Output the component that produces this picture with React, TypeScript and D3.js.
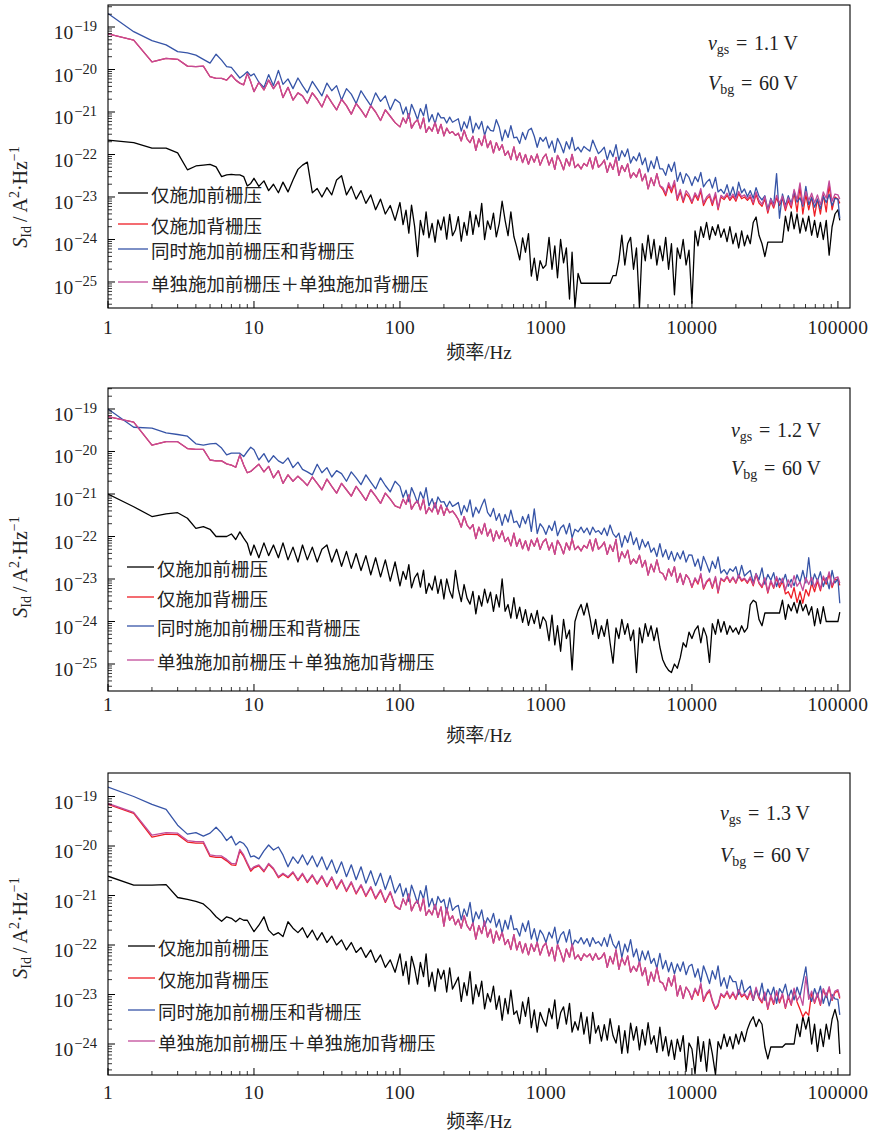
import React from 'react';
import * as d3 from 'd3';

// Frequency grid (Hz): 0.5 Hz steps below 10 Hz, 30 points in 10–100 Hz, 50 points per decade above
const FREQ = [
  1, 1.5, 2, 2.5, 3, 3.5, 4, 4.5, 5, 5.5, 6, 6.5, 7, 7.5, 8, 8.5, 9, 9.5,
  10, 10.8, 11.7, 12.6, 13.6, 14.7, 15.8, 17.1, 18.5, 20, 21.5, 23.2, 25.1, 27.1, 29.2, 31.6, 34.1, 36.8, 39.8, 43, 46.4, 50.1, 54.1, 58.4, 63.1, 68.1, 73.6, 79.4, 85.8, 92.6,
  100, 105, 110, 115, 120, 126, 132, 138, 145, 151, 158, 166, 174, 182, 191, 200, 209, 219, 229, 240, 251, 263, 275, 288, 302, 316, 331, 347, 363, 380, 398, 417, 437, 457, 479, 501, 525, 550, 575, 603, 631, 661, 692, 724, 759, 794, 832, 871, 912, 955,
  1000, 1050, 1100, 1150, 1200, 1260, 1320, 1380, 1450, 1510, 1580, 1660, 1740, 1820, 1910, 2000, 2090, 2190, 2290, 2400, 2510, 2630, 2750, 2880, 3020, 3160, 3310, 3470, 3630, 3800, 3980, 4170, 4370, 4570, 4790, 5010, 5250, 5500, 5750, 6030, 6310, 6610, 6920, 7240, 7590, 7940, 8320, 8710, 9120, 9550,
  10000, 10500, 11000, 11500, 12000, 12600, 13200, 13800, 14500, 15100, 15800, 16600, 17400, 18200, 19100, 20000, 20900, 21900, 22900, 24000, 25100, 26300, 27500, 28800, 30200, 31600, 33100, 34700, 36300, 38000, 39800, 41700, 43700, 45700, 47900, 50100, 52500, 55000, 57500, 60300, 63100, 66100, 69200, 72400, 75900, 79400, 83200, 87100, 91200, 95500,
  100000, 103000,
];

// log10 of S_Id (A^2/Hz), vgs = 1.1 V
const FRONT_11 = [
  -21.66, -21.72, -21.85, -21.85, -21.96, -22.36, -22.27, -22.25, -22.23, -22.29, -22.52, -22.48, -22.47, -22.48, -22.48, -22.52, -22.74, -22.68,
  -22.56, -22.75, -22.62, -22.85, -22.7, -22.9, -22.65, -22.88, -22.6, -22.35, -22.25, -22.18, -22.9, -22.8, -23.0, -22.78, -22.95, -22.6, -22.5, -22.95, -22.75, -23.05, -22.85, -23.15, -22.95, -23.3, -23.05, -23.4, -23.2, -23.55,
  -23.13, -23.65, -23.31, -23.85, -23.19, -23.69, -24.4, -23.55, -23.89, -23.35,
  -23.96, -23.62, -24.06, -23.54, -23.78, -23.47, -23.99, -23.41, -23.91, -23.77,
  -23.46, -24.04, -23.6, -23.9, -23.34, -23.88, -23.42, -23.7, -23.15, -24.0,
  -23.56, -23.76, -23.38, -23.94, -23.62, -23.1, -23.55, -23.91, -23.35, -23.93,
  -24.18, -24.48, -23.96, -24.3, -23.86, -24.86, -24.44, -24.96, -24.5, -24.68,
  -24.6, -23.95, -24.7, -24.15, -24.9, -24.0, -24.55, -24.2, -25.4, -24.3,
  -25.6, -24.8, -25.03, -25.03, -25.03, -25.03, -25.03, -25.03, -25.03, -25.03,
  -25.03, -25.03, -25.03, -24.85, -24.85, -24.5, -23.9, -24.6, -24.1, -23.95,
  -24.7, -24.2, -25.6, -24.1, -24.5, -23.9, -24.45, -24.0, -24.6, -24.15,
  -24.5, -23.95, -24.7, -24.1, -25.3, -24.2, -24.45, -24.0, -24.6, -24.25,
  -25.5, -23.8, -24.15, -23.7, -23.95, -23.6, -24.0, -23.7, -23.9, -23.65,
  -23.95, -23.75, -24.05, -23.7, -24.1, -23.85, -24.2, -23.8, -24.15, -23.9,
  -24.1, -23.6, -23.47, -23.9, -24.1, -24.4, -24.06, -24.06, -24.06, -24.06,
  -24.06, -24.06, -23.45, -23.8, -23.35, -23.75, -23.4, -23.85, -23.5, -23.8,
  -23.45, -23.9, -23.55, -23.95, -23.6, -24.0, -23.55, -24.37, -23.7, -23.4,
  -23.3, -23.55,
];
const BACK_11 = [
  -19.16, -19.31, -19.82, -19.74, -19.76, -19.92, -19.93, -19.92, -20.17, -20.21, -20.21, -20.25, -20.13, -20.25, -20.32, -20.36, -20.09, -20.29,
  -20.52, -20.3, -20.48, -20.25, -20.45, -20.28, -20.66, -20.42, -20.72, -20.55, -20.62, -20.8, -20.55, -20.7, -20.88, -20.6, -20.78, -20.95, -20.7, -20.85, -21.05, -20.8, -20.95, -21.12, -20.85, -21.0, -21.2, -20.95, -21.1, -21.25,
  -21.35, -21.14, -21.26, -21.04, -21.38, -21.25, -21.18, -21.39, -21.14, -21.48,
  -21.35, -21.45, -21.24, -21.5, -21.29, -21.56, -21.38, -21.5, -21.46, -21.55,
  -21.5, -21.68, -21.43, -21.63, -21.72, -21.57, -21.9, -21.63, -21.79, -21.54,
  -21.84, -21.68, -21.96, -21.72, -21.9, -21.77, -22.02, -21.92, -22.12, -21.82,
  -22.13, -21.96, -22.19, -22.0, -22.23, -22.03, -22.18, -21.99, -22.25, -22.08,
  -21.99, -22.25, -22.08, -22.35, -22.02, -22.17, -22.36, -22.1, -22.27, -22.0,
  -22.31, -22.23, -22.34, -22.21, -22.27, -22.08, -22.34, -22.05, -22.3, -22.23,
  -22.13, -22.42, -22.2, -22.35, -22.07, -22.49, -22.26, -22.4, -22.22, -22.55,
  -22.43, -22.53, -22.34, -22.62, -22.46, -22.81, -22.55, -22.73, -22.45, -22.74,
  -22.82, -22.97, -22.72, -22.9, -22.68, -23.08, -22.88, -23.13, -22.92, -23.0,
  -23.15, -22.95, -23.08, -22.86, -23.2, -23.05, -22.98, -23.2, -22.95, -23.3,
  -23.0, -23.06, -22.96, -23.08, -22.98, -23.1, -22.92, -23.04, -23.0, -23.08,
  -23.0, -23.18, -22.94, -23.14, -23.22, -23.05, -23.38, -23.1, -23.26, -23.02,
  -23.2, -23.04, -23.32, -23.08, -23.26, -22.9, -23.35, -22.75, -23.4, -22.95,
  -23.3, -23.0, -23.45, -23.05, -23.4, -22.95, -23.35, -22.7, -23.3, -23.0,
  -23.05, -23.15,
];
const BOTH_11 = [
  -18.68, -19.11, -19.32, -19.42, -19.58, -19.61, -19.66, -19.76, -19.85, -19.64, -19.78, -19.93, -19.95, -20.08, -20.2, -20.13, -20.05, -20.15,
  -20.1, -20.3, -20.42, -20.12, -20.38, -20.02, -20.35, -20.22, -20.45, -20.2, -20.38, -20.55, -20.28, -20.45, -20.62, -20.32, -20.5, -20.38, -20.72, -20.45, -20.58, -20.8, -20.5, -20.68, -20.85, -20.55, -20.75, -20.62, -20.95, -20.7,
  -20.79, -21.05, -20.88, -21.15, -20.82, -20.99, -21.18, -20.92, -21.09, -20.82,
  -21.23, -21.06, -21.28, -21.02, -21.14, -21.13, -21.26, -21.12, -21.24, -21.2,
  -21.16, -21.45, -21.23, -21.38, -21.1, -21.49, -21.26, -21.4, -21.22, -21.55,
  -21.33, -21.43, -21.45, -21.18, -21.36, -21.68, -21.42, -21.6, -21.32, -21.61,
  -21.59, -21.74, -21.48, -21.65, -21.43, -21.38, -21.57, -21.83, -21.6, -21.69,
  -21.59, -21.85, -21.68, -21.95, -21.62, -21.77, -21.96, -21.7, -21.87, -21.6,
  -21.91, -21.83, -21.94, -21.81, -21.87, -21.92, -21.66, -21.83, -21.98, -21.91,
  -21.83, -22.12, -21.9, -22.05, -21.77, -22.14, -21.91, -22.05, -21.87, -22.2,
  -22.05, -22.15, -21.96, -22.24, -22.08, -22.41, -22.15, -22.33, -22.05, -22.34,
  -22.34, -22.49, -22.23, -22.4, -22.18, -22.63, -22.42, -22.68, -22.45, -22.54,
  -22.73, -22.52, -22.64, -22.42, -22.76, -22.65, -22.58, -22.79, -22.54, -22.88,
  -22.82, -22.92, -22.71, -22.97, -22.76, -23.02, -22.65, -22.9, -22.81, -22.99,
  -22.85, -23.03, -22.78, -22.98, -23.07, -22.97, -23.3, -23.03, -23.19, -22.45,
  -23.5, -22.93, -23.21, -22.97, -23.15, -22.87, -23.12, -23.02, -23.22, -22.75,
  -23.18, -23.01, -23.24, -23.05, -23.28, -22.98, -23.13, -22.94, -23.2, -23.03,
  -23.05, -23.5,
];
const SUM_11 = [
  -19.16, -19.31, -19.82, -19.74, -19.76, -19.92, -19.93, -19.92, -20.17, -20.21, -20.21, -20.25, -20.13, -20.25, -20.32, -20.36, -20.09, -20.29,
  -20.52, -20.3, -20.48, -20.25, -20.45, -20.28, -20.66, -20.42, -20.72, -20.55, -20.62, -20.8, -20.55, -20.7, -20.88, -20.6, -20.78, -20.95, -20.7, -20.85, -21.05, -20.8, -20.95, -21.12, -20.85, -21.0, -21.2, -20.95, -21.1, -21.25,
  -21.35, -21.14, -21.26, -21.04, -21.38, -21.25, -21.18, -21.39, -21.14, -21.48,
  -21.35, -21.45, -21.24, -21.5, -21.29, -21.56, -21.38, -21.5, -21.46, -21.55,
  -21.5, -21.68, -21.43, -21.63, -21.72, -21.57, -21.9, -21.63, -21.79, -21.54,
  -21.84, -21.68, -21.96, -21.72, -21.9, -21.77, -22.02, -21.92, -22.12, -21.82,
  -22.13, -21.96, -22.19, -22.0, -22.23, -22.03, -22.18, -21.99, -22.25, -22.08,
  -21.99, -22.25, -22.08, -22.35, -22.02, -22.17, -22.36, -22.1, -22.27, -22.0,
  -22.31, -22.23, -22.34, -22.21, -22.27, -22.08, -22.34, -22.05, -22.3, -22.23,
  -22.13, -22.42, -22.2, -22.35, -22.07, -22.49, -22.26, -22.4, -22.22, -22.55,
  -22.43, -22.53, -22.34, -22.62, -22.46, -22.81, -22.55, -22.73, -22.45, -22.74,
  -22.77, -22.92, -22.66, -22.83, -22.61, -23.03, -22.82, -23.08, -22.85, -22.94,
  -23.11, -22.9, -23.02, -22.8, -23.14, -23.0, -22.93, -23.14, -22.89, -23.26,
  -22.96, -23.02, -22.91, -23.04, -22.93, -23.05, -22.87, -22.99, -22.95, -23.04,
  -22.95, -23.13, -22.88, -23.08, -23.17, -22.99, -23.32, -23.05, -23.21, -22.96,
  -23.14, -22.98, -23.26, -23.02, -23.2, -22.82, -23.07, -22.67, -23.17, -22.87,
  -23.08, -22.91, -23.14, -22.95, -23.18, -22.88, -23.03, -22.62, -23.1, -22.93,
  -22.95, -23.05,
];

// log10 of S_Id (A^2/Hz), vgs = 1.2 V
const FRONT_12 = [
  -21.0, -21.3, -21.53, -21.47, -21.44, -21.57, -21.81, -21.77, -21.83, -22.0, -22.0, -22.0, -21.94, -22.07, -21.89, -22.04, -22.16, -22.44,
  -22.2, -22.5, -22.15, -22.45, -22.2, -22.5, -22.15, -22.55, -22.25, -22.6, -22.2, -22.55, -22.25, -22.6, -22.3, -22.2, -22.6, -22.3, -22.7, -22.35, -22.75, -22.4, -22.8, -22.45, -22.9, -22.5, -22.95, -22.55, -23.05, -22.6,
  -23.16, -22.82, -23.01, -22.66, -23.21, -22.97, -22.86, -23.19, -22.79, -23.34,
  -23.1, -23.26, -22.93, -23.34, -23.01, -23.47, -23.0, -23.28, -23.45, -22.8,
  -23.24, -23.53, -23.13, -23.45, -23.59, -23.29, -23.82, -23.39, -23.64, -23.24,
  -23.56, -23.31, -23.76, -23.37, -23.66, -23.0, -23.76, -23.6, -23.92, -23.44,
  -23.93, -23.66, -24.02, -23.72, -24.09, -23.81, -24.05, -23.74, -24.16, -23.89,
  -24.0, -24.45, -23.85, -24.55, -24.1, -24.7, -23.95, -24.4, -24.2, -25.14,
  -24.0, -23.75, -23.6, -23.85, -23.57, -23.9, -24.3, -23.95, -24.4, -24.1,
  -24.35, -23.95, -24.5, -24.98, -24.15, -24.4, -23.95, -24.3, -24.05, -24.45,
  -24.2, -25.2, -24.15, -24.5, -24.05, -24.35, -24.1, -24.45, -24.15, -24.6,
  -24.9, -25.05, -25.15, -25.2, -25.0, -25.1, -24.85, -24.5, -24.6, -24.25,
  -24.4, -24.2, -24.1, -24.5, -24.15, -24.35, -24.96, -24.05, -24.3, -23.95,
  -24.25, -24.0, -24.3, -24.1, -24.25, -24.15, -24.3, -24.1, -24.25, -24.15,
  -23.6, -23.5, -23.55, -23.95, -24.1, -23.8, -23.8, -23.8, -23.8, -23.8,
  -23.8, -23.5, -23.95, -23.6, -23.75, -23.55, -23.8, -23.5, -23.75, -23.6,
  -23.85, -23.65, -24.1, -23.7, -24.05, -23.65, -24.0, -24.0, -24.0, -24.0,
  -24.0, -23.78,
];
const BACK_12 = [
  -19.18, -19.31, -19.85, -19.77, -19.77, -19.93, -19.95, -19.95, -20.2, -20.22, -20.22, -20.29, -20.32, -20.37, -20.08, -20.32, -20.5, -20.47,
  -20.4, -20.3, -20.48, -20.35, -20.62, -20.45, -20.75, -20.55, -20.7, -20.58, -20.68, -20.8, -20.6, -20.75, -20.9, -20.65, -20.82, -20.98, -20.75, -20.9, -21.05, -20.82, -20.98, -21.15, -20.9, -21.05, -21.22, -20.98, -21.12, -21.28,
  -21.33, -21.12, -21.24, -21.02, -21.36, -21.23, -21.16, -21.37, -21.12, -21.46,
  -21.32, -21.42, -21.21, -21.47, -21.26, -21.5, -21.32, -21.44, -21.4, -21.49,
  -21.6, -21.78, -21.53, -21.73, -21.82, -21.72, -22.05, -21.78, -21.94, -21.69,
  -21.99, -21.83, -22.11, -21.87, -22.05, -21.87, -22.12, -22.02, -22.22, -21.92,
  -22.23, -22.06, -22.29, -22.1, -22.33, -22.08, -22.23, -22.04, -22.3, -22.13,
  -22.06, -22.32, -22.15, -22.42, -22.09, -22.22, -22.41, -22.15, -22.32, -22.05,
  -22.31, -22.23, -22.34, -22.21, -22.27, -22.08, -22.34, -22.05, -22.3, -22.23,
  -22.13, -22.42, -22.2, -22.35, -22.07, -22.59, -22.36, -22.5, -22.32, -22.65,
  -22.53, -22.63, -22.44, -22.72, -22.56, -22.91, -22.65, -22.83, -22.55, -22.84,
  -22.87, -23.02, -22.76, -22.93, -22.71, -23.08, -22.87, -23.13, -22.9, -22.99,
  -23.2, -23.0, -23.12, -22.9, -23.24, -23.08, -23.0, -23.22, -22.97, -23.33,
  -23.0, -23.06, -22.95, -23.08, -22.97, -23.1, -22.93, -23.05, -23.0, -23.1,
  -22.98, -23.16, -22.9, -23.1, -23.2, -23.0, -23.33, -23.06, -23.22, -22.98,
  -23.2, -23.05, -23.35, -23.3, -23.45, -23.2, -23.55, -23.3, -23.57, -23.25,
  -23.4, -23.1, -23.3, -23.05, -23.28, -22.97, -23.12, -22.88, -23.2, -23.02,
  -23.0, -23.15,
];
const BOTH_12 = [
  -19.0, -19.43, -19.45, -19.56, -19.6, -19.64, -19.82, -19.85, -19.82, -19.81, -19.92, -20.08, -20.04, -20.04, -20.04, -20.12, -20.0, -19.9,
  -19.96, -20.2, -20.05, -20.25, -20.1, -20.22, -20.28, -20.15, -20.38, -20.25, -20.42, -20.48, -20.55, -20.3, -20.5, -20.38, -20.6, -20.45, -20.52, -20.7, -20.48, -20.62, -20.78, -20.55, -20.72, -20.88, -20.62, -20.8, -20.95, -20.7,
  -20.82, -21.08, -20.91, -21.18, -20.85, -21.02, -21.21, -20.95, -21.12, -20.85,
  -21.28, -21.11, -21.33, -21.07, -21.19, -21.18, -21.31, -21.17, -21.29, -21.25,
  -21.2, -21.49, -21.27, -21.42, -21.14, -21.54, -21.31, -21.45, -21.27, -21.12,
  -21.43, -21.53, -21.34, -21.62, -21.46, -21.74, -21.48, -21.66, -21.38, -21.67,
  -21.64, -21.79, -21.53, -21.7, -21.48, -21.88, -21.35, -21.93, -21.7, -21.79,
  -21.95, -21.74, -21.86, -21.64, -21.98, -21.8, -21.73, -21.94, -21.69, -22.03,
  -21.83, -21.89, -21.78, -21.91, -21.8, -21.96, -21.78, -21.9, -21.86, -21.95,
  -21.8, -21.98, -21.73, -21.93, -22.02, -21.92, -22.25, -21.98, -22.14, -21.89,
  -22.19, -22.03, -22.31, -22.07, -22.25, -22.12, -22.37, -22.27, -22.47, -22.17,
  -22.48, -22.31, -22.54, -22.35, -22.58, -22.38, -22.53, -22.34, -22.6, -22.43,
  -22.44, -22.7, -22.53, -22.8, -22.47, -22.65, -22.84, -22.58, -22.75, -22.48,
  -22.86, -22.78, -22.89, -22.76, -22.82, -22.71, -22.97, -22.68, -22.93, -22.86,
  -22.8, -23.09, -22.87, -23.02, -22.74, -23.12, -22.89, -23.03, -22.85, -23.18,
  -22.98, -23.08, -22.89, -23.17, -23.01, -23.16, -22.9, -23.08, -22.8, -23.09,
  -22.5, -23.14, -22.88, -23.05, -22.83, -23.18, -22.97, -23.23, -22.8, -23.09,
  -23.0, -23.57,
];
const SUM_12 = [
  -19.18, -19.31, -19.85, -19.77, -19.77, -19.93, -19.95, -19.95, -20.2, -20.22, -20.22, -20.29, -20.32, -20.37, -20.08, -20.32, -20.5, -20.47,
  -20.4, -20.3, -20.48, -20.35, -20.62, -20.45, -20.75, -20.55, -20.7, -20.58, -20.68, -20.8, -20.6, -20.75, -20.9, -20.65, -20.82, -20.98, -20.75, -20.9, -21.05, -20.82, -20.98, -21.15, -20.9, -21.05, -21.22, -20.98, -21.12, -21.28,
  -21.33, -21.12, -21.24, -21.02, -21.36, -21.23, -21.16, -21.37, -21.12, -21.46,
  -21.32, -21.42, -21.21, -21.47, -21.26, -21.5, -21.32, -21.44, -21.4, -21.49,
  -21.6, -21.78, -21.53, -21.73, -21.82, -21.72, -22.05, -21.78, -21.94, -21.69,
  -21.99, -21.83, -22.11, -21.87, -22.05, -21.87, -22.12, -22.02, -22.22, -21.92,
  -22.23, -22.06, -22.29, -22.1, -22.33, -22.08, -22.23, -22.04, -22.3, -22.13,
  -22.06, -22.32, -22.15, -22.42, -22.09, -22.22, -22.41, -22.15, -22.32, -22.05,
  -22.31, -22.23, -22.34, -22.21, -22.27, -22.08, -22.34, -22.05, -22.3, -22.23,
  -22.13, -22.42, -22.2, -22.35, -22.07, -22.59, -22.36, -22.5, -22.32, -22.65,
  -22.53, -22.63, -22.44, -22.72, -22.56, -22.91, -22.65, -22.83, -22.55, -22.84,
  -22.87, -23.02, -22.76, -22.93, -22.71, -23.08, -22.87, -23.13, -22.9, -22.99,
  -23.18, -22.97, -23.09, -22.87, -23.21, -23.05, -22.98, -23.19, -22.94, -23.3,
  -22.98, -23.04, -22.93, -23.06, -22.95, -23.08, -22.9, -23.02, -22.98, -23.07,
  -22.95, -23.13, -22.88, -23.08, -23.17, -22.97, -23.3, -23.03, -23.19, -22.94,
  -23.14, -22.98, -23.26, -23.02, -23.2, -22.92, -23.17, -23.07, -23.27, -22.97,
  -23.13, -22.96, -23.19, -23.0, -23.23, -22.93, -23.08, -22.83, -23.15, -22.98,
  -22.95, -23.1,
];

// log10 of S_Id (A^2/Hz), vgs = 1.3 V
const FRONT_13 = [
  -20.61, -20.79, -20.79, -20.78, -21.04, -21.08, -21.12, -21.17, -21.29, -21.43, -21.52, -21.43, -21.46, -21.53, -21.46, -21.5, -21.5, -21.62,
  -21.73, -21.6, -21.43, -21.7, -21.8, -21.75, -21.83, -21.53, -21.66, -21.75, -21.65, -21.85, -21.7, -21.9, -21.75, -21.95, -21.82, -22.0, -21.9, -22.1, -21.95, -22.15, -22.05, -22.25, -22.1, -22.35, -22.2, -22.45, -22.3, -22.55,
  -22.18, -22.62, -22.33, -22.79, -22.23, -22.47, -22.79, -22.35, -22.64, -22.18,
  -22.84, -22.55, -22.93, -22.48, -22.69, -22.51, -22.95, -22.46, -22.89, -22.77,
  -22.65, -23.14, -22.76, -23.02, -22.54, -23.19, -22.8, -23.04, -22.73, -23.29,
  -22.98, -23.15, -22.83, -23.3, -23.03, -23.52, -23.08, -23.39, -22.91, -23.4,
  -23.33, -23.59, -23.15, -23.44, -23.06, -23.67, -23.31, -23.76, -23.36, -23.52,
  -23.64, -23.28, -23.49, -23.11, -23.69, -23.37, -23.25, -23.6, -23.18, -23.76,
  -23.55, -23.72, -23.36, -23.8, -23.45, -23.99, -23.36, -23.78, -23.63, -23.94,
  -23.61, -23.92, -23.49, -23.83, -23.98, -23.63, -24.19, -23.73, -24.18, -23.58,
  -23.92, -23.65, -24.12, -23.71, -24.02, -23.57, -24.0, -23.83, -24.17, -23.66,
  -24.14, -23.85, -24.24, -23.92, -24.31, -23.9, -24.15, -23.83, -24.55, -23.98,
  -24.1, -24.6, -23.85, -24.35, -23.95, -24.55, -23.9, -24.2, -24.62, -23.95,
  -24.1, -23.8, -24.05, -23.85, -24.1, -23.8, -24.0, -23.75, -23.95, -23.7,
  -23.55, -23.45, -23.65, -23.5, -23.6, -24.06, -24.3, -24.06, -24.06, -24.06,
  -24.06, -24.06, -24.0, -24.0, -24.0, -24.0, -23.6, -23.85, -23.45, -23.7,
  -23.45, -24.0, -23.6, -24.15, -23.7, -24.05, -23.6, -23.9, -23.5, -23.3,
  -23.55, -24.2,
];
const BACK_13 = [
  -19.16, -19.34, -19.82, -19.76, -19.77, -19.92, -19.94, -19.94, -20.21, -20.23, -20.23, -20.3, -20.38, -20.39, -20.1, -20.21, -20.37, -20.51,
  -20.44, -20.4, -20.52, -20.37, -20.47, -20.64, -20.57, -20.64, -20.54, -20.7, -20.57, -20.74, -20.6, -20.77, -20.62, -20.82, -20.64, -20.87, -20.7, -20.92, -20.74, -20.97, -20.8, -21.02, -20.84, -21.07, -20.9, -21.14, -20.94, -21.22,
  -21.28, -21.07, -21.19, -20.97, -21.31, -21.17, -21.1, -21.31, -21.06, -21.4,
  -21.29, -21.39, -21.18, -21.44, -21.23, -21.62, -21.25, -21.5, -21.41, -21.59,
  -21.48, -21.66, -21.41, -21.61, -21.7, -21.55, -21.88, -21.61, -21.77, -21.52,
  -21.84, -21.68, -21.96, -21.72, -21.9, -21.74, -21.99, -21.89, -22.09, -21.79,
  -22.1, -21.93, -22.16, -21.97, -22.2, -21.98, -22.13, -21.94, -22.2, -22.03,
  -21.96, -22.22, -22.05, -22.32, -21.99, -22.15, -22.34, -22.08, -22.25, -21.98,
  -22.28, -22.2, -22.31, -22.18, -22.24, -22.18, -22.31, -22.17, -22.29, -22.25,
  -22.16, -22.45, -22.23, -22.38, -22.1, -22.49, -22.26, -22.4, -22.22, -22.55,
  -22.43, -22.53, -22.34, -22.62, -22.46, -22.81, -22.55, -22.73, -22.45, -22.74,
  -22.77, -22.92, -22.66, -22.83, -22.61, -23.03, -22.82, -23.08, -22.85, -22.94,
  -23.1, -22.9, -23.02, -22.8, -23.14, -23.0, -22.93, -23.14, -23.3, -23.23,
  -23.0, -23.06, -22.96, -23.08, -22.98, -23.1, -22.93, -23.05, -23.0, -23.1,
  -22.95, -23.12, -22.88, -23.08, -23.17, -22.98, -23.3, -23.04, -23.2, -22.95,
  -23.17, -23.0, -23.28, -23.05, -23.22, -22.9, -23.15, -23.3, -23.45, -23.35,
  -23.42, -22.96, -23.18, -23.0, -23.22, -22.9, -23.06, -22.87, -23.12, -22.96,
  -22.93, -23.08,
];
const BOTH_13 = [
  -18.81, -19.0, -19.16, -19.26, -19.58, -19.76, -19.73, -19.8, -19.74, -19.62, -19.74, -19.89, -19.8, -19.98, -19.91, -19.95, -20.05, -20.22,
  -20.2, -20.26, -20.1, -19.98, -20.08, -20.02, -20.18, -20.42, -20.22, -20.35, -20.18, -20.38, -20.2, -20.42, -20.22, -20.48, -20.28, -20.55, -20.32, -20.62, -20.38, -20.68, -20.42, -20.75, -20.5, -20.8, -20.55, -20.88, -20.6, -20.95,
  -20.76, -21.02, -20.85, -21.12, -20.79, -20.97, -21.16, -20.9, -21.07, -20.8,
  -21.23, -21.06, -21.28, -21.02, -21.14, -21.08, -21.34, -21.05, -21.3, -21.23,
  -21.2, -21.49, -21.27, -21.42, -21.14, -21.56, -21.33, -21.47, -21.29, -21.62,
  -21.45, -21.55, -21.36, -21.64, -21.48, -21.76, -21.5, -21.68, -21.4, -21.69,
  -21.67, -21.82, -21.56, -21.73, -21.51, -21.88, -21.67, -21.93, -21.7, -21.79,
  -21.95, -21.74, -21.86, -21.64, -21.98, -21.8, -21.73, -21.94, -21.69, -22.03,
  -21.9, -21.96, -21.85, -21.98, -21.87, -22.03, -21.85, -21.97, -21.93, -22.02,
  -21.85, -22.03, -21.78, -21.98, -22.07, -21.92, -22.25, -21.98, -22.14, -21.89,
  -22.24, -22.08, -22.36, -22.12, -22.3, -22.12, -22.37, -22.27, -22.47, -22.17,
  -22.48, -22.31, -22.54, -22.35, -22.58, -22.38, -22.53, -22.34, -22.6, -22.43,
  -22.39, -22.65, -22.48, -22.75, -22.42, -22.59, -22.78, -22.52, -22.69, -22.42,
  -22.83, -22.66, -22.88, -22.62, -22.74, -22.74, -23.0, -22.71, -22.96, -22.89,
  -22.83, -23.12, -22.9, -23.05, -22.77, -23.12, -22.89, -23.03, -22.85, -23.18,
  -22.88, -22.98, -22.79, -23.07, -22.91, -23.11, -22.85, -23.03, -22.75, -22.44,
  -22.99, -23.14, -22.88, -23.05, -22.83, -23.18, -22.97, -23.23, -23.0, -23.09,
  -23.1, -23.41,
];
const SUM_13 = [
  -19.14, -19.32, -19.78, -19.73, -19.74, -19.89, -19.91, -19.91, -20.18, -20.2, -20.2, -20.27, -20.35, -20.36, -20.07, -20.18, -20.34, -20.48,
  -20.42, -20.38, -20.5, -20.35, -20.45, -20.62, -20.55, -20.62, -20.52, -20.68, -20.55, -20.72, -20.58, -20.75, -20.6, -20.8, -20.62, -20.85, -20.68, -20.9, -20.72, -20.95, -20.78, -21.0, -20.82, -21.05, -20.88, -21.12, -20.92, -21.2,
  -21.28, -21.07, -21.19, -20.97, -21.31, -21.17, -21.1, -21.31, -21.06, -21.4,
  -21.29, -21.39, -21.18, -21.44, -21.23, -21.62, -21.25, -21.5, -21.41, -21.59,
  -21.48, -21.66, -21.41, -21.61, -21.7, -21.55, -21.88, -21.61, -21.77, -21.52,
  -21.84, -21.68, -21.96, -21.72, -21.9, -21.74, -21.99, -21.89, -22.09, -21.79,
  -22.1, -21.93, -22.16, -21.97, -22.2, -21.98, -22.13, -21.94, -22.2, -22.03,
  -21.96, -22.22, -22.05, -22.32, -21.99, -22.15, -22.34, -22.08, -22.25, -21.98,
  -22.28, -22.2, -22.31, -22.18, -22.24, -22.18, -22.31, -22.17, -22.29, -22.25,
  -22.16, -22.45, -22.23, -22.38, -22.1, -22.49, -22.26, -22.4, -22.22, -22.55,
  -22.43, -22.53, -22.34, -22.62, -22.46, -22.81, -22.55, -22.73, -22.45, -22.74,
  -22.77, -22.92, -22.66, -22.83, -22.61, -23.03, -22.82, -23.08, -22.85, -22.94,
  -23.08, -22.87, -22.99, -22.77, -23.11, -22.97, -22.9, -23.11, -23.28, -23.2,
  -22.98, -23.04, -22.93, -23.06, -22.95, -23.08, -22.9, -23.02, -22.98, -23.07,
  -22.92, -23.1, -22.85, -23.05, -23.14, -22.95, -23.28, -23.01, -23.17, -22.92,
  -23.14, -22.98, -23.26, -23.02, -23.2, -22.87, -23.12, -23.02, -23.22, -22.64,
  -23.1, -22.93, -23.16, -22.97, -23.2, -22.88, -23.03, -22.84, -23.1, -22.93,
  -22.9, -23.05,
];

const LEGEND_LABELS = ['仅施加前栅压', '仅施加背栅压', '同时施加前栅压和背栅压', '单独施加前栅压＋单独施加背栅压'];
const LINE_COLORS = ['#000000', '#ee1d25', '#3654a7', '#c14b9a'];
const X_TICKS = [1, 10, 100, 1000, 10000, 100000];
const X_TICK_LABELS = ['1', '10', '100', '1000', '10000', '100000'];
const VGS_LABELS = ['1.1', '1.2', '1.3'];
const VBG_LABEL = '60';

const SERIF = '"Liberation Serif", "Times New Roman", serif';
const CJK = '"Noto Sans CJK SC", "Noto Sans CJK JP", sans-serif';

const W = 870;
const H = 1135;
const X_LEFT = 108;
const X_RIGHT = 850;
const X_MAX = 1.21e5;

type PanelCfg = {
  key: string;
  vgs: string;
  series: number[][];
  top: number;
  bottom: number;
  yLo: number;
  yHi: number;
  legend: { x0: number; x1: number; tx: number; rows: number[] };
  note: { xEnd: number; y1: number; y2: number };
  yLabelY: number;
  tickLabelY: number;
  xLabelY: number;
};

const PANELS: PanelCfg[] = [
  {
    key: 'a', vgs: VGS_LABELS[0], series: [FRONT_11, BACK_11, BOTH_11, SUM_11],
    top: 5, bottom: 308, yLo: -25.612, yHi: -18.482,
    legend: { x0: 118, x1: 148, tx: 151, rows: [194, 225, 250, 283] },
    note: { xEnd: 798, y1: 50, y2: 90 },
    yLabelY: 197, tickLabelY: 334, xLabelY: 359,
  },
  {
    key: 'b', vgs: VGS_LABELS[1], series: [FRONT_12, BACK_12, BOTH_12, SUM_12],
    top: 388, bottom: 691, yLo: -25.635, yHi: -18.506,
    legend: { x0: 127, x1: 154, tx: 157, rows: [568, 598, 627, 661] },
    note: { xEnd: 821, y1: 437, y2: 475 },
    yLabelY: 567, tickLabelY: 711, xLabelY: 742,
  },
  {
    key: 'c', vgs: VGS_LABELS[2], series: [FRONT_13, BACK_13, BOTH_13, SUM_13],
    top: 773, bottom: 1075, yLo: -24.626, yHi: -18.525,
    legend: { x0: 128, x1: 155, tx: 158, rows: [947, 979, 1011, 1042] },
    note: { xEnd: 810, y1: 820, y2: 862 },
    yLabelY: 928, tickLabelY: 1099, xLabelY: 1128,
  },
];

function Panel({ cfg }: { cfg: PanelCfg }) {
  const x = d3.scaleLog().domain([1, X_MAX]).range([X_LEFT, X_RIGHT]);
  const y = d3
    .scaleLog()
    .domain([Math.pow(10, cfg.yLo), Math.pow(10, cfg.yHi)])
    .range([cfg.bottom, cfg.top]);
  const line = d3
    .line<number>()
    .defined((_, i) => i < FREQ.length)
    .x((_, i) => x(FREQ[i]))
    .y((v) => y(Math.pow(10, v)));

  const xMinor: number[] = [];
  X_TICKS.forEach((dec) => {
    for (let m = 2; m <= 9; m++) if (dec * m <= X_MAX) xMinor.push(dec * m);
  });
  const yMajor = d3.range(Math.ceil(cfg.yLo), Math.floor(cfg.yHi) + 1);
  const yMinor: number[] = [];
  for (let e = Math.floor(cfg.yLo); e <= Math.floor(cfg.yHi); e++) {
    for (let m = 2; m <= 9; m++) {
      const lv = e + Math.log10(m);
      if (lv > cfg.yLo && lv < cfg.yHi) yMinor.push(m * Math.pow(10, e));
    }
  }
  const clipId = `plot-clip-${cfg.key}`;
  const plotW = X_RIGHT - X_LEFT;
  const plotH = cfg.bottom - cfg.top;

  return (
    <g>
      <defs>
        <clipPath id={clipId}>
          <rect x={X_LEFT} y={cfg.top} width={plotW} height={plotH} />
        </clipPath>
      </defs>
      <g clipPath={`url(#${clipId})`}>
        {cfg.series.map((vals, i) => (
          <path
            key={i}
            d={line(vals) || ''}
            fill="none"
            stroke={LINE_COLORS[i]}
            strokeWidth={1.3}
            strokeLinejoin="round"
          />
        ))}
      </g>

      {/* axis frame */}
      <rect x={X_LEFT} y={cfg.top} width={plotW} height={plotH} fill="none" stroke="#000" strokeWidth={1.1} />

      {/* x ticks (inward, bottom only) */}
      {X_TICKS.map((t) => (
        <line key={`xM${t}`} x1={x(t)} x2={x(t)} y1={cfg.bottom} y2={cfg.bottom - 7} stroke="#000" strokeWidth={1} />
      ))}
      {xMinor.map((t) => (
        <line key={`xm${t}`} x1={x(t)} x2={x(t)} y1={cfg.bottom} y2={cfg.bottom - 4} stroke="#000" strokeWidth={0.8} />
      ))}
      {X_TICKS.map((t, i) => (
        <text key={`xl${t}`} x={x(t)} y={cfg.tickLabelY} textAnchor="middle" fontFamily={SERIF} fontSize={19.5} letterSpacing={0.4} fill="#222">
          {X_TICK_LABELS[i]}
        </text>
      ))}

      {/* y ticks (inward, left only) */}
      {yMajor.map((e) => {
        const ty = y(Math.pow(10, e));
        return (
          <g key={`yM${e}`}>
            <line x1={X_LEFT} x2={X_LEFT + 7} y1={ty} y2={ty} stroke="#000" strokeWidth={1} />
            <text x={97} y={ty + 12} textAnchor="end" fontFamily={SERIF} fontSize={19.5} fill="#222">
              10
              <tspan fontSize={14.5} dx={1} dy={-8}>{`\u2212${-e}`}</tspan>
            </text>
          </g>
        );
      })}
      {yMinor.map((v, i) => (
        <line key={`ym${i}`} x1={X_LEFT} x2={X_LEFT + 4} y1={y(v)} y2={y(v)} stroke="#000" strokeWidth={0.8} />
      ))}

      {/* axis titles */}
      <text x={(X_LEFT + X_RIGHT) / 2} y={cfg.xLabelY} textAnchor="middle" fontSize={19} fill="#222">
        <tspan fontFamily={CJK}>频率</tspan>
        <tspan fontFamily={SERIF}>/Hz</tspan>
      </text>
      <text
        transform={`translate(27, ${cfg.yLabelY}) rotate(-90)`}
        textAnchor="middle"
        fontFamily={SERIF}
        fontSize={20}
        fill="#222"
      >
        <tspan fontStyle="italic">S</tspan>
        <tspan fontSize={14} dy={4}>Id</tspan>
        <tspan dy={-4}>{'\u2009/\u2009A'}</tspan>
        <tspan fontSize={14} dy={-8}>2</tspan>
        <tspan dy={8}>·Hz</tspan>
        <tspan fontSize={14} dy={-8}>{'\u22121'}</tspan>
      </text>

      {/* legend */}
      {LEGEND_LABELS.map((label, i) => {
        const ry = cfg.legend.rows[i];
        return (
          <g key={`lg${i}`}>
            <line x1={cfg.legend.x0} x2={cfg.legend.x1} y1={ry - 1} y2={ry - 1} stroke={LINE_COLORS[i]} strokeWidth={1.3} />
            <text x={cfg.legend.tx} y={ry} dominantBaseline="central" fontFamily={CJK} fontSize={18.5} fill="#222">
              {label}
            </text>
          </g>
        );
      })}

      {/* bias annotation */}
      <text x={cfg.note.xEnd} y={cfg.note.y1} textAnchor="end" fontFamily={SERIF} fontSize={20} fill="#222">
        <tspan fontStyle="italic">v</tspan>
        <tspan fontSize={14} dy={4}>gs</tspan>
        <tspan dy={-4}>{`\u2004=\u2004${cfg.vgs} V`}</tspan>
      </text>
      <text x={cfg.note.xEnd} y={cfg.note.y2} textAnchor="end" fontFamily={SERIF} fontSize={20} fill="#222">
        <tspan fontStyle="italic">V</tspan>
        <tspan fontSize={14} dy={4}>bg</tspan>
        <tspan dy={-4}>{`\u2004=\u2004${VBG_LABEL} V`}</tspan>
      </text>
    </g>
  );
}

export default function App() {
  return (
    <svg
      width={W}
      height={H}
      viewBox={`0 0 ${W} ${H}`}
      style={{ position: 'absolute', left: 0, top: 0, background: '#fff' }}
    >
      <rect x={0} y={0} width={W} height={H} fill="#fff" />
      {PANELS.map((p) => (
        <Panel key={p.key} cfg={p} />
      ))}
    </svg>
  );
}
